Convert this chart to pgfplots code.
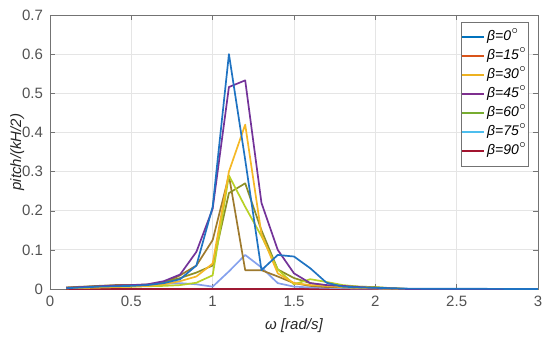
\documentclass[border=0pt]{standalone}
\usepackage{fontspec}
\setmainfont{Liberation Sans}
\usepackage{pgfplots}
\pgfplotsset{compat=1.18}
% legend colours (MATLAB default order)
\definecolor{L0}{rgb}{0,0.447,0.741}
\definecolor{L15}{rgb}{0.85,0.325,0.098}
\definecolor{L30}{rgb}{0.929,0.694,0.125}
\definecolor{L45}{rgb}{0.494,0.184,0.556}
\definecolor{L60}{rgb}{0.466,0.674,0.188}
\definecolor{L75}{rgb}{0.301,0.745,0.933}
\definecolor{L90}{rgb}{0.635,0.078,0.184}
% colours as the lines appear in the plot
\definecolor{pblue}{rgb}{0.12,0.45,0.76}
\definecolor{ppurple}{rgb}{0.45,0.2,0.6}
\definecolor{porange}{rgb}{0.96,0.72,0.15}
\definecolor{pyg}{rgb}{0.72,0.82,0.15}
\definecolor{polive}{rgb}{0.55,0.56,0.15}
\definecolor{pbrown}{rgb}{0.62,0.48,0.18}
\definecolor{plight}{rgb}{0.52,0.63,0.93}
\definecolor{pzero}{rgb}{0.62,0.1,0.2}
\definecolor{axgray}{rgb}{0.15,0.15,0.15}
\newcommand{\dg}{\smash{\raisebox{1.0ex}{\fontsize{4}{4}\selectfont$\circ$}}}
\begin{document}
\begin{tikzpicture}
\begin{axis}[
  scale only axis,
  width=244pt, height=137pt,
  xmin=0, xmax=3, ymin=0, ymax=0.7,
  xtick={0,0.5,...,3}, ytick={0,0.1,...,0.7},
  /pgf/number format/assume math mode=true,
  /pgf/number format/fixed,
  /pgf/number format/precision=1,
  tick label style={font=\fontsize{7.5}{8}\selectfont, text=axgray!80},
  label style={font=\fontsize{7.5}{8}\selectfont\itshape, text=axgray},
  xlabel={ω [rad/s]},
  ylabel={pitch/(kH/2)},
  xlabel style={yshift=1pt},
  ylabel style={yshift=-8pt},
  axis line style={black!55},
  tick style={black!55},
  tick align=inside,
  major tick length=2.5pt,
  grid=major,
  major grid style={black!10, line width=0.4pt},
  every axis plot/.append style={line width=0.85pt, line join=round},
  legend style={at={(1,1)}, anchor=north east, xshift=-4.5pt, yshift=-3.5pt,
    draw=black!55, fill=white, font=\fontsize{7}{8}\selectfont\itshape,
    row sep=0.5pt, inner xsep=0pt, inner ysep=3pt,
    nodes={inner sep=1.2pt}},
  legend cell align=left,
  legend image code/.code={\draw[#1, line width=1pt] (0cm,0cm) -- (0.38cm,0cm);},
]
% zero line (dark red) along the axis
\addplot[pzero, forget plot] coordinates {(0.1,0) (3.0,0)};
% light blue
\addplot[plight, forget plot] coordinates {
(0.1,0.003) (0.2,0.005) (0.3,0.006) (0.4,0.007) (0.5,0.008) (0.6,0.010) (0.7,0.013)
(0.8,0.015) (0.9,0.012) (1.0,0.006) (1.1,0.045) (1.2,0.087) (1.3,0.055) (1.4,0.015)
(1.5,0.006) (1.6,0.004) (1.7,0.003) (1.8,0.002) (1.9,0.001) (2.0,0.001) (2.2,0) (3.0,0)};
% olive-brown (spike at 1.1, drop at 1.2)
\addplot[pbrown, forget plot] coordinates {
(0.1,0.004) (0.2,0.006) (0.3,0.008) (0.4,0.010) (0.5,0.010) (0.6,0.011) (0.7,0.016)
(0.8,0.035) (0.9,0.060) (1.0,0.125) (1.1,0.290) (1.2,0.048) (1.3,0.048) (1.4,0.032)
(1.5,0.015) (1.6,0.008) (1.7,0.005) (1.8,0.004) (1.9,0.003) (2.0,0.002) (2.2,0) (3.0,0)};
% olive (peak at 1.2)
\addplot[polive, forget plot] coordinates {
(0.1,0.003) (0.2,0.005) (0.3,0.007) (0.4,0.008) (0.5,0.009) (0.6,0.011) (0.7,0.018)
(0.8,0.028) (0.9,0.042) (1.0,0.060) (1.1,0.245) (1.2,0.270) (1.3,0.150) (1.4,0.050)
(1.5,0.028) (1.6,0.015) (1.7,0.009) (1.8,0.008) (1.9,0.006) (2.0,0.005) (2.1,0.002) (2.2,0) (3.0,0)};
% yellow-green
\addplot[pyg, forget plot] coordinates {
(0.1,0.002) (0.2,0.003) (0.3,0.004) (0.4,0.005) (0.5,0.006) (0.6,0.007) (0.7,0.008)
(0.8,0.010) (0.9,0.016) (1.0,0.035) (1.1,0.290) (1.2,0.210) (1.3,0.135) (1.4,0.050)
(1.5,0.012) (1.6,0.025) (1.7,0.018) (1.8,0.010) (1.9,0.006) (2.0,0.004) (2.2,0) (3.0,0)};
% orange
\addplot[porange, forget plot] coordinates {
(0.1,0.002) (0.2,0.003) (0.3,0.004) (0.4,0.005) (0.5,0.006) (0.6,0.008) (0.7,0.012)
(0.8,0.020) (0.9,0.032) (1.0,0.065) (1.1,0.300) (1.2,0.420) (1.3,0.140) (1.4,0.040)
(1.5,0.015) (1.6,0.010) (1.7,0.008) (1.8,0.005) (1.9,0.003) (2.0,0.002) (2.2,0) (3.0,0)};
% purple
\addplot[ppurple, forget plot] coordinates {
(0.1,0.003) (0.2,0.005) (0.3,0.007) (0.4,0.009) (0.5,0.010) (0.6,0.012) (0.7,0.020)
(0.8,0.037) (0.9,0.095) (1.0,0.205) (1.1,0.516) (1.2,0.533) (1.3,0.220) (1.4,0.100)
(1.5,0.040) (1.6,0.015) (1.7,0.010) (1.8,0.008) (1.9,0.005) (2.0,0.003) (2.2,0) (3.0,0)};
% blue
\addplot[pblue, forget plot] coordinates {
(0.1,0.002) (0.2,0.004) (0.3,0.006) (0.4,0.007) (0.5,0.008) (0.6,0.010) (0.7,0.015)
(0.8,0.025) (0.9,0.060) (1.0,0.210) (1.1,0.600) (1.2,0.330) (1.3,0.048) (1.4,0.087)
(1.5,0.083) (1.6,0.053) (1.7,0.016) (1.8,0.006) (1.9,0.004) (2.0,0.003) (2.1,0.002) (2.2,0.001) (3.0,0)};
% legend
\addlegendimage{L0}\addlegendentry{β=0\dg}
\addlegendimage{L15}\addlegendentry{β=15\dg}
\addlegendimage{L30}\addlegendentry{β=30\dg}
\addlegendimage{L45}\addlegendentry{β=45\dg}
\addlegendimage{L60}\addlegendentry{β=60\dg}
\addlegendimage{L75}\addlegendentry{β=75\dg}
\addlegendimage{L90}\addlegendentry{β=90\dg}
\end{axis}
\pgfresetboundingbox
\path[use as bounding box] (current axis.south west) ++(-25pt,-24pt) rectangle ([xshift=6pt,yshift=7.5pt]current axis.north east);
\end{tikzpicture}
\end{document}
